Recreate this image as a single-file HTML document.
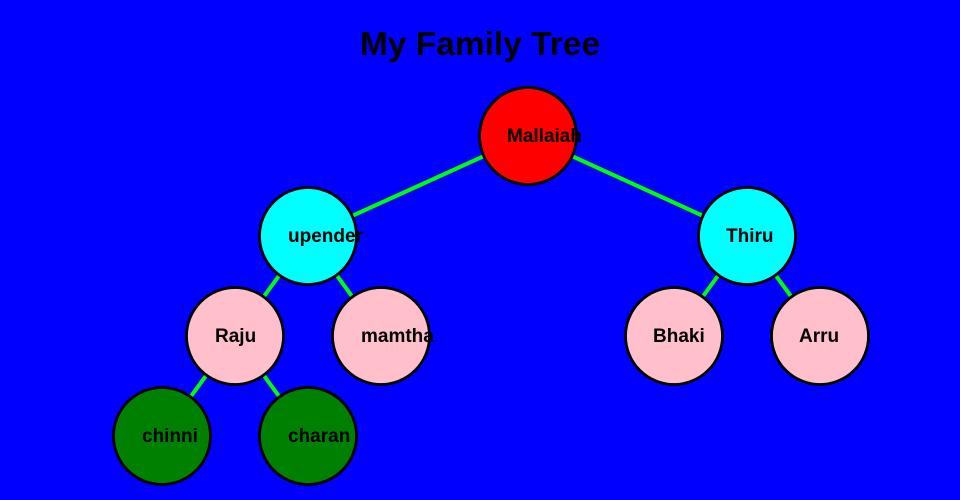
<!DOCTYPE html>
<html><head><style>
html,body{margin:0;padding:0;background:#0000ff;}
svg{display:block;}
text{font-family:"Liberation Sans","DejaVu Sans",sans-serif;font-weight:bold;fill:#000;}
</style></head><body>
<svg width="960" height="500" viewBox="0 0 960 500">
<rect width="960" height="500" fill="#0000ff"/>
<text x="480" y="55" font-size="33.5" text-anchor="middle">My Family Tree</text>
<g stroke="#00ff00" stroke-width="4">
<line x1="528" y1="136" x2="308" y2="236"/>
<line x1="528" y1="136" x2="747" y2="236"/>
<line x1="308" y1="236" x2="235" y2="336"/>
<line x1="308" y1="236" x2="381" y2="336"/>
<line x1="747" y1="236" x2="674" y2="336"/>
<line x1="747" y1="236" x2="820" y2="336"/>
<line x1="235" y1="336" x2="162" y2="436"/>
<line x1="235" y1="336" x2="308" y2="436"/>
</g>
<g stroke="#000" stroke-width="2.8">
<circle cx="528" cy="136" r="48.5" fill="#ff0000"/>
<circle cx="308" cy="236" r="48.5" fill="#00ffff"/>
<circle cx="747" cy="236" r="48.5" fill="#00ffff"/>
<circle cx="235" cy="336" r="48.5" fill="#ffc0cb"/>
<circle cx="381" cy="336" r="48.5" fill="#ffc0cb"/>
<circle cx="674" cy="336" r="48.5" fill="#ffc0cb"/>
<circle cx="820" cy="336" r="48.5" fill="#ffc0cb"/>
<circle cx="162" cy="436" r="48.5" fill="#008000"/>
<circle cx="308" cy="436" r="48.5" fill="#008000"/>
</g>
<g font-size="19">
<text x="507" y="142">Mallaiah</text>
<text x="288" y="242">upender</text>
<text x="726" y="242">Thiru</text>
<text x="215" y="342">Raju</text>
<text x="361" y="342">mamtha</text>
<text x="653" y="342">Bhaki</text>
<text x="799" y="342">Arru</text>
<text x="142" y="442">chinni</text>
<text x="288" y="442">charan</text>
</g>
</svg>
</body></html>
